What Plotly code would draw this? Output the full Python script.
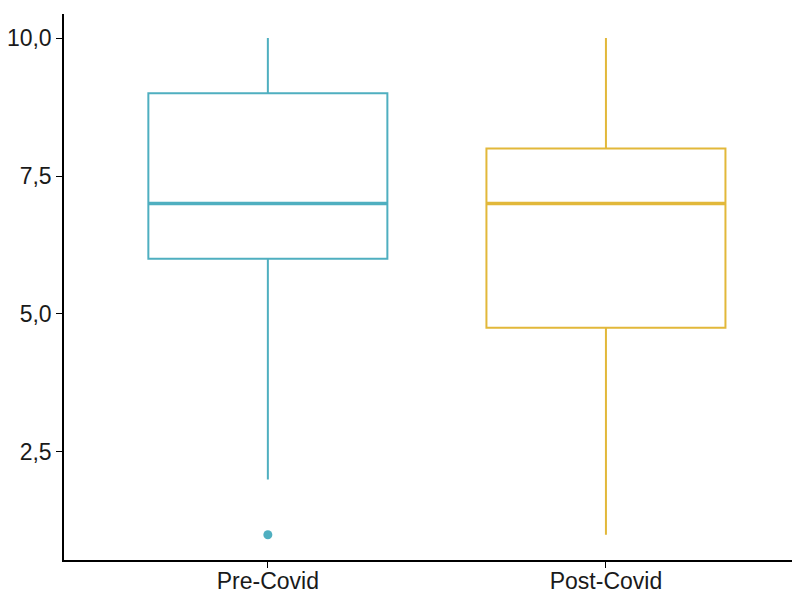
import plotly.graph_objects as go

categories = ["Pre-Covid", "Post-Covid"]
lower_whisker = [2, 1]
q1 = [6, 4.75]
median = [7, 7]
q3 = [9, 8]
upper_whisker = [10, 10]
outlier_cat = ["Pre-Covid"]
outlier_val = [1]
colors = ["#4FAFC0", "#E2B83A"]
ytick_vals = [2.5, 5.0, 7.5, 10.0]

fig = go.Figure()
for i, cat in enumerate(categories):
    fig.add_trace(go.Box(
        x=[cat], q1=[q1[i]], median=[median[i]], q3=[q3[i]],
        lowerfence=[lower_whisker[i]], upperfence=[upper_whisker[i]],
        fillcolor="rgba(255,255,255,0)", line=dict(color=colors[i], width=2),
        whiskerwidth=0, boxpoints=False, showlegend=False, hoverinfo="skip",
    ))
    # thicker median line
    fig.add_trace(go.Box(
        x=[cat], q1=[median[i]], median=[median[i]], q3=[median[i]],
        lowerfence=[median[i]], upperfence=[median[i]],
        fillcolor="rgba(255,255,255,0)", line=dict(color=colors[i], width=3.5),
        whiskerwidth=0, boxpoints=False, showlegend=False, hoverinfo="skip",
    ))

fig.add_trace(go.Scatter(
    x=outlier_cat, y=outlier_val, mode="markers",
    marker=dict(color=colors[0], size=9), showlegend=False, hoverinfo="skip",
))

axis_font = dict(family="Liberation Sans, Arial, sans-serif", size=23, color="#1a1a1a")
# page body has an 8px margin: figure sits at (8, 8)
fig.update_layout(
    width=792, height=581,
    margin=dict(l=56, r=0, t=6, b=29, autoexpand=False),
    plot_bgcolor="white", paper_bgcolor="white",
    boxmode="overlay", boxgap=0.293, boxgroupgap=0,
    separators=",.",
    xaxis=dict(
        type="category", categoryorder="array", categoryarray=categories,
        range=[-0.603, 1.574], showline=True, linecolor="black", linewidth=1.5,
        ticks="outside", ticklen=6, tickwidth=1.3, tickcolor="black",
        showgrid=False, zeroline=False, tickfont=axis_font, automargin=False,
        ticklabelstandoff=-6,
    ),
    yaxis=dict(
        range=[0.543, 10.435], tickvals=ytick_vals, tickformat=".1f",
        showline=True, linecolor="black", linewidth=1.5,
        ticks="outside", ticklen=6, tickwidth=1.3, tickcolor="black",
        showgrid=False, zeroline=False, tickfont=axis_font, automargin=False,
    ),
)

fig.write_html("out.html")
